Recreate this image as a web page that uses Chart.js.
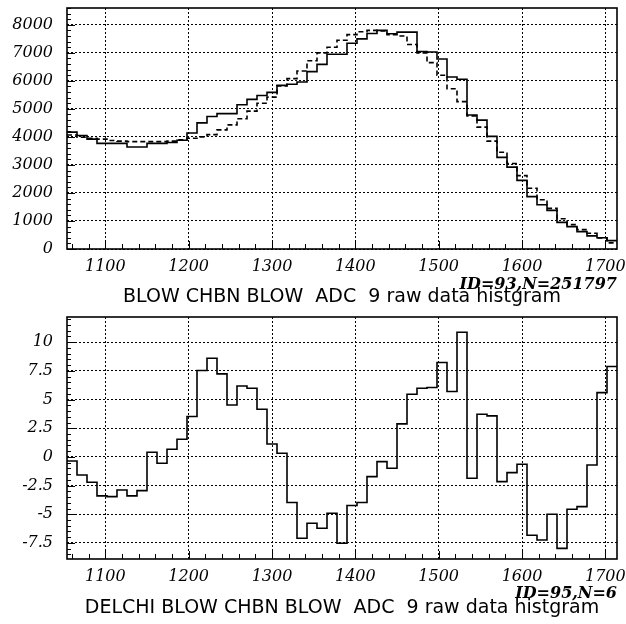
<!DOCTYPE html>
<html><head><meta charset="utf-8">
<script src="https://cdn.jsdelivr.net/npm/chart.js@4/dist/chart.umd.min.js"></script>
<style>
html,body{margin:0;padding:0;background:#fff;}
canvas{display:block;}
</style></head><body>
<canvas id="rawChart" width="626" height="312"></canvas>
<canvas id="delchiChart" width="626" height="312"></canvas>
<script>
// ---- data ----
const adcBinEdges = [1054,1066,1078,1090,1102,1114,1126,1138,1150,1162,1174,1186,1198,1210,1222,1234,1246,1258,1270,1282,1294,1306,1318,1330,1342,1354,1366,1378,1390,1402,1414,1426,1438,1450,1462,1474,1486,1498,1510,1522,1534,1546,1558,1570,1582,1594,1606,1618,1630,1642,1654,1666,1678,1690,1702,1714];
const rawSolid = [4170,4050,3920,3770,3770,3770,3640,3640,3770,3770,
  3800,3880,4140,4500,4730,4830,4830,5150,5340,5480,
  5590,5840,5880,5960,6330,6590,6950,6950,7340,7500,
  7690,7800,7680,7740,7740,7050,7030,6780,6140,6060,
  4780,4600,4020,3270,2920,2450,1870,1580,1380,950,
  800,620,470,400,300];
const rawDashed = [4070,3990,3950,3920,3870,3850,3830,3830,3830,3830,
  3850,3900,3950,4000,4080,4250,4430,4650,4920,5200,
  5420,5820,6080,6350,6720,7000,7200,7450,7650,7750,
  7800,7780,7650,7600,7300,7000,6650,6200,5720,5260,
  4750,4350,3850,3450,3050,2620,2170,1760,1450,1080,
  870,690,560,390,220];
const delchiValues = [-0.35,-1.57,-2.21,-3.40,-3.46,-2.88,-3.40,-2.94,0.41,-0.55,
  0.67,1.54,3.52,7.53,8.60,7.24,4.53,6.19,5.99,4.16,
  1.13,0.32,-3.98,-7.09,-5.78,-6.22,-4.91,-7.53,-4.24,-3.98,
  -1.72,-0.41,-0.99,2.88,5.47,5.99,6.05,8.23,5.70,10.87,
  -1.86,3.72,3.58,-2.15,-1.37,-0.64,-6.83,-7.24,-5.00,-7.97,
  -4.56,-4.33,-0.70,5.61,7.88];
const xTickValues = [1100,1200,1300,1400,1500,1600,1700];
const rawYTicks = [0,1000,2000,3000,4000,5000,6000,7000,8000];
const delchiYTicks = [-7.5,-5,-2.5,0,2.5,5,7.5,10];
const rawTitle = 'BLOW CHBN BLOW  ADC  9 raw data histgram';
const rawInfo = 'ID=93,N=251797';
const delchiTitle = 'DELCHI BLOW CHBN BLOW  ADC  9 raw data histgram';
const delchiInfo = 'ID=95,N=6';
const xMinorStep = 20;
const rawYMinorStep = 200;
const delchiYMinorStep = 0.5;

// ---- helpers ----
const tickFontFn = () => ({family: 'DejaVu Serif', size: 16, style: 'italic'});

function toSteps(values) {
  const pts = values.map((v, i) => ({x: adcBinEdges[i], y: v}));
  pts.push({x: adcBinEdges[values.length], y: values[values.length - 1]});
  return pts;
}

function decorPlugin(cfg) {
  return {
    id: 'decor',
    afterDatasetsDraw(chart) {
      const {ctx, chartArea: a, scales: {x, y}} = chart;
      ctx.save();
      ctx.setLineDash([]);
      ctx.strokeStyle = '#000';
      ctx.lineWidth = 1;
      ctx.beginPath();
      const x0 = Math.ceil(x.min / xMinorStep) * xMinorStep;
      for (let v = x0; v <= x.max; v += xMinorStep) {
        const px = Math.round(x.getPixelForValue(v)) + 0.5;
        const len = (v % 100 === 0) ? 8 : 5;
        ctx.moveTo(px, a.bottom); ctx.lineTo(px, a.bottom - len);
      }
      const y0 = Math.ceil(y.min / cfg.yMinor) * cfg.yMinor;
      for (let v = y0; v <= y.max + 1e-9; v += cfg.yMinor) {
        const py = Math.round(y.getPixelForValue(v)) + 0.5;
        const major = cfg.yTicks.some(t => Math.abs(t - v) < 1e-6);
        ctx.moveTo(a.left, py); ctx.lineTo(a.left + (major ? 8 : 4), py);
      }
      ctx.stroke();
      ctx.lineWidth = 1.6;
      ctx.strokeRect(a.left, a.top, a.right - a.left, a.bottom - a.top);
      ctx.restore();
    }
  };
}

function makeChart(id, cfg) {
  return new Chart(document.getElementById(id), {
    type: 'line',
    data: {
      datasets: cfg.series.map(s => ({
        data: toSteps(s.values),
        stepped: true,
        borderColor: '#000',
        borderWidth: 1.6,
        borderDash: s.dash,
        pointRadius: 0,
        fill: false
      }))
    },
    options: {
      responsive: false,
      animation: false,
      devicePixelRatio: 1,
      layout: {padding: {left: 0, right: 9, top: cfg.top, bottom: 0}},
      plugins: {
        legend: {display: false},
        tooltip: {enabled: false},
        title: {
          display: true, position: 'bottom', fullSize: false, align: 'center',
          text: cfg.title, color: '#000',
          font: {family: 'DejaVu Sans', size: 19, weight: 'normal', lineHeight: cfg.titleLH},
          padding: {top: 0, bottom: cfg.titlePB}
        }
      },
      scales: {
        x: {
          type: 'linear', min: adcBinEdges[0], max: adcBinEdges[adcBinEdges.length - 1],
          afterBuildTicks: s => { s.ticks = xTickValues.map(v => ({value: v})); },
          afterFit: s => { s.height = cfg.xh; s.paddingLeft = 0; s.paddingRight = 0; },
          grid: {color: '#000', lineWidth: 1, drawTicks: false},
          border: {display: false, dash: [2, 2]},
          ticks: {padding: 8, font: tickFontFn, color: '#000', maxRotation: 0, autoSkip: false,
                  callback: v => String(v)},
          title: {
            display: true, text: cfg.info, align: 'end', color: '#000',
            font: {family: 'DejaVu Serif', size: 16, style: 'italic', weight: 'bold', lineHeight: 1},
            padding: {top: 0, bottom: 0}
          }
        },
        y: {
          type: 'linear', min: cfg.ymin, max: cfg.ymax,
          afterBuildTicks: s => { s.ticks = cfg.yTicks.map(v => ({value: v})); },
          afterFit: s => { s.width = 67; s.paddingTop = 0; s.paddingBottom = 0; },
          grid: {color: '#000', lineWidth: 1, drawTicks: false},
          border: {display: false, dash: [2, 2]},
          ticks: {padding: 14, font: tickFontFn, color: '#000', autoSkip: false,
                  callback: v => String(v)}
        }
      }
    },
    plugins: [decorPlugin(cfg)]
  });
}

makeChart('rawChart', {
  series: [{values: rawSolid, dash: []}, {values: rawDashed, dash: [5, 3]}],
  top: 8, xh: 44, ymin: 0, ymax: 8600, yTicks: rawYTicks, yMinor: rawYMinorStep,
  info: rawInfo, title: rawTitle, titleLH: 0.421, titlePB: 11
});
makeChart('delchiChart', {
  series: [{values: delchiValues, dash: []}],
  top: 5, xh: 43, ymin: -8.9, ymax: 12.2, yTicks: delchiYTicks, yMinor: delchiYMinorStep,
  info: delchiInfo, title: delchiTitle, titleLH: 0.632, titlePB: 10
});
</script>
</body></html>
